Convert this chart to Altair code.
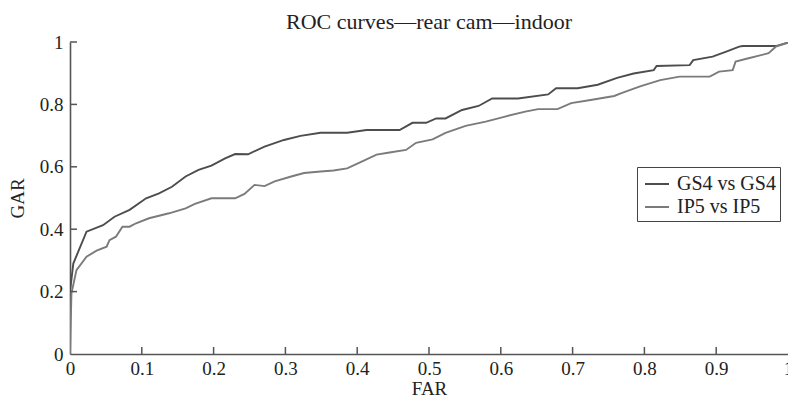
import altair as alt
import pandas as pd

# Upper (darker) curve: GS4 vs GS4
gs4_far = [0.0, 0.0, 0.0046, 0.023, 0.046, 0.062, 0.083, 0.106, 0.124, 0.142, 0.161, 0.179, 0.197, 0.216, 0.230,
           0.248, 0.271, 0.298, 0.321, 0.349, 0.386, 0.413, 0.459, 0.477, 0.496, 0.510, 0.523, 0.546, 0.569, 0.588,
           0.624, 0.666, 0.677, 0.707, 0.735, 0.762, 0.785, 0.813, 0.817, 0.863, 0.868, 0.895, 0.914, 0.932, 0.937,
           0.983, 1.0]
gs4_gar = [0.0, 0.2, 0.29, 0.392, 0.413, 0.44, 0.462, 0.499, 0.515, 0.536, 0.569, 0.590, 0.604, 0.627, 0.641,
           0.640, 0.665, 0.686, 0.699, 0.709, 0.709, 0.718, 0.718, 0.741, 0.741, 0.755, 0.755, 0.782, 0.795, 0.819,
           0.819, 0.832, 0.852, 0.852, 0.863, 0.885, 0.899, 0.910, 0.923, 0.926, 0.942, 0.953, 0.969, 0.985, 0.987,
           0.987, 0.998]

# Lower (lighter) curve: IP5 vs IP5
ip5_far = [0.0, 0.002, 0.009, 0.023, 0.037, 0.051, 0.055, 0.064, 0.073, 0.083, 0.092, 0.110, 0.138, 0.161, 0.174,
           0.197, 0.230, 0.243, 0.257, 0.271, 0.285, 0.308, 0.326, 0.349, 0.367, 0.386, 0.404, 0.427, 0.445, 0.468,
           0.482, 0.505, 0.523, 0.551, 0.579, 0.606, 0.634, 0.652, 0.679, 0.698, 0.725, 0.758, 0.767, 0.794, 0.822,
           0.849, 0.891, 0.904, 0.923, 0.927, 0.945, 0.973, 0.983, 1.0]
ip5_gar = [0.0, 0.194, 0.269, 0.312, 0.331, 0.344, 0.365, 0.376, 0.408, 0.408, 0.419, 0.435, 0.451, 0.467, 0.481,
           0.499, 0.499, 0.513, 0.542, 0.538, 0.553, 0.569, 0.580, 0.585, 0.588, 0.595, 0.614, 0.639, 0.646, 0.654,
           0.677, 0.688, 0.709, 0.731, 0.745, 0.761, 0.777, 0.785, 0.785, 0.804, 0.814, 0.827, 0.835, 0.858, 0.878,
           0.889, 0.889, 0.905, 0.910, 0.937, 0.948, 0.964, 0.985, 0.998]

series_names = ["GS4 vs GS4", "IP5 vs IP5"]
series_colors = ["#4d4d4d", "#7b7b7b"]

x_ticks = [0.0, 0.1, 0.2, 0.3, 0.4, 0.5, 0.6, 0.7, 0.8, 0.9, 1.0]
y_ticks = [0.0, 0.2, 0.4, 0.6, 0.8, 1.0]

rows = []
for i, (f, g) in enumerate(zip(gs4_far, gs4_gar)):
    rows.append({"FAR": f, "GAR": g, "series": series_names[0], "idx": i})
for i, (f, g) in enumerate(zip(ip5_far, ip5_gar)):
    rows.append({"FAR": f, "GAR": g, "series": series_names[1], "idx": i})
df = pd.DataFrame(rows)

FONT = "Liberation Serif"
W, H = 718, 312
AXC = "#555555"

xscale = alt.Scale(domain=[0, 1], nice=False, zero=False)
yscale = alt.Scale(domain=[0, 1], nice=False, zero=False)
xaxis = alt.Axis(values=x_ticks, format=".1~f", title="FAR", grid=False, tickSize=0, labelFlush=False,
                 domainColor=AXC, domainWidth=1.6, labelPadding=5, titlePadding=1)
yaxis = alt.Axis(values=y_ticks, format=".1~f", title="GAR", grid=False, tickSize=0, labelFlush=False,
                 domainColor=AXC, domainWidth=1.6, labelPadding=7, titlePadding=12)

lines = alt.Chart(df).mark_line(strokeWidth=1.9, clip=True).encode(
    x=alt.X("FAR:Q", scale=xscale, axis=xaxis),
    y=alt.Y("GAR:Q", scale=yscale, axis=yaxis),
    color=alt.Color("series:N", scale=alt.Scale(domain=series_names, range=series_colors),
                    legend=alt.Legend(title=None, orient="none", legendX=567, legendY=125,
                                      strokeColor="#444444", fillColor="white", padding=4,
                                      symbolOffset=3,
                                      symbolType="stroke", symbolSize=576, symbolStrokeWidth=2,
                                      labelFont=FONT, labelFontSize=20, labelColor="#222222",
                                      labelOffset=7, rowPadding=0, labelLimit=300, cornerRadius=0)),
    order="idx:Q",
)

xt = pd.DataFrame({"t": x_ticks[1:-1]})
yt = pd.DataFrame({"t": y_ticks[1:]})

xtick_rules = alt.Chart(xt).mark_rule(color=AXC, strokeWidth=1.5).encode(
    x=alt.X("t:Q", scale=xscale, axis=xaxis), y=alt.value(H), y2=alt.value(H - 7))
ytick_rules = alt.Chart(yt).mark_rule(color=AXC, strokeWidth=1.5).encode(
    y=alt.Y("t:Q", scale=yscale, axis=yaxis), x=alt.value(0), x2=alt.value(7))

chart = alt.layer(lines, xtick_rules, ytick_rules).properties(
    width=W, height=H,
    autosize=alt.AutoSizeParams(type="none"),
    padding={"left": 62, "top": 34, "right": 0, "bottom": 44},
    title=alt.TitleParams("ROC curves\u2014rear cam\u2014indoor", font=FONT, fontSize=22,
                          fontWeight="normal", color="#222222", offset=-1),
).configure_view(stroke=None).configure_axis(
    labelFont=FONT, labelFontSize=19, labelColor="#222222",
    titleFont=FONT, titleFontSize=19, titleFontWeight="normal", titleColor="#222222",
)

chart.save("out.html", embed_options={"renderer": "svg", "actions": False})
